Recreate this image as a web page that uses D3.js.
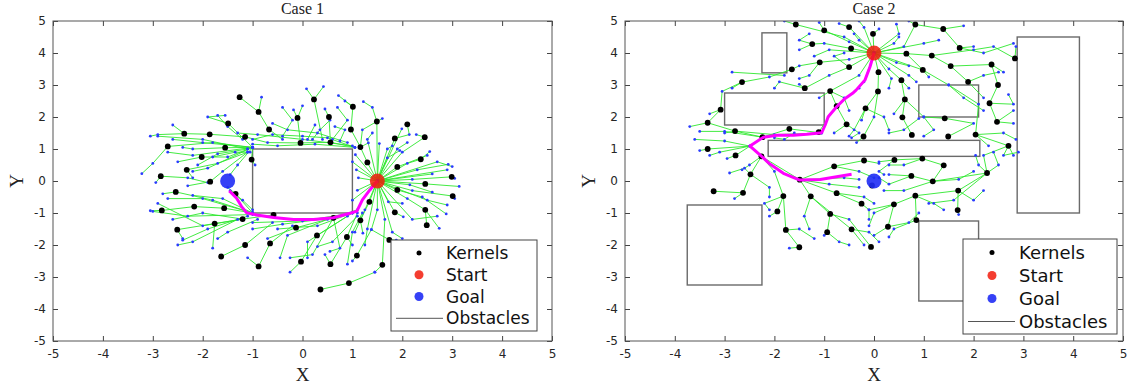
<!DOCTYPE html>
<html>
<head>
<meta charset="utf-8">
<script src="https://cdn.jsdelivr.net/npm/d3@7/dist/d3.min.js"></script>
<style>
  body { margin: 0; background: #fff; }
</style>
</head>
<body>
<div id="chart"></div>
<script>
/* Two panels of kernel trees, MATLAB look */

// ---------- Case 1 ----------
const start1 = [1.5, 0], goal1 = [-1.5, 0];
const obstacles1 = [[-1, -1, 1, 1]];
const path1 = [[1.5,0],[1.35,-0.28],[1.2,-0.59],[1.09,-0.94],[0.95,-1.01],[0.62,-1.15],[0.22,-1.2],
  [-0.18,-1.2],[-0.58,-1.14],[-0.92,-1.06],[-1.12,-0.99],[-1.22,-0.8],[-1.32,-0.54],[-1.42,-0.38],[-1.47,-0.31]];
const kernels1 = [[-1.26,2.62],[-0.88,2.16],[-1.49,1.8],[-2.37,1.48],[-1.86,1.46],[-2.7,1.08],[-1.15,1.38],
  [-1.55,1.04],[-2.02,0.75],[-1.02,0.67],[-2.32,0.35],[-2.84,0.15],[-1.85,-0.02],[-1.34,-0.4],[-2.54,-0.34],
  [-2.82,-0.92],[-2.17,-0.8],[-1.57,-0.85],[-2.51,-1.52],[-1.76,-1.33],[-1.2,-1.19],[-0.58,-1.06],[-1.15,-2],
  [-0.65,-1.95],[-1.63,-2.36],[-0.88,-2.67],[-0.13,-1.46],[0.29,-1.7],[-0.03,-2.52],[0.56,-2.6],[0.36,-3.39],
  [0.93,-3.19],[0.89,-1.75],[0.62,-1.15],[1.16,-1.23],[1.09,-2.33],[1.6,-2.62],[1.74,-1.84],[1.34,-0.65],
  [1.85,-0.98],[2.46,-0.9],[2.49,-1.38],[3.01,-0.47],[2.99,0.13],[2.46,-0.09],[1.9,-0.28],[1.9,0.44],
  [2.37,0.68],[2.45,1.37],[2.1,1.77],[1.85,1.33],[1.49,1.86],[1.3,0.58],[1.16,1.06],[0.97,1.61],[1.01,2.32],
  [0.53,2],[0.23,2.55],[-0.1,1.97],[-0.67,1.61],[-0.04,1.19],[0.56,1.21]];
const branches1 = [
  // fan around the start
  [[1.5,0],[2.2,0.05],[2.99,0.13],[3.05,0.08]],
  [[1.5,0],[2.3,0.35],[2.92,0.52]],
  [[1.5,0],[2.46,-0.09],[3.14,-0.17]],
  [[1.5,0],[2.2,-0.3],[3.01,-0.47],[3.05,-0.55]],
  [[1.5,0],[1.9,-0.28],[2.4,-0.5],[2.88,-1.03]],
  [[1.5,0],[2.1,-0.55],[2.46,-0.9],[2.74,-1.48]],
  [[2.46,-0.9],[2.49,-1.38]],
  [[1.5,0],[1.85,-0.98],[2.02,-1.12]],
  [[1.5,0],[1.9,0.44],[2.5,0.8]],
  [[1.5,0],[2.1,0.55],[2.37,0.68],[2.55,0.92]],
  [[1.5,0],[2.0,0.9],[2.45,1.37],[2.28,1.45]],
  [[1.5,0],[1.85,1.33],[2.14,1.45],[2.1,1.77]],
  [[1.5,0],[1.99,1.63]],
  [[1.5,0],[1.49,1.86],[1.6,1.95]],
  [[1.5,0],[1.54,1.17]],
  [[1.5,0],[1.3,0.58],[1.16,1.06],[1.32,1.19]],
  [[1.5,0],[1.06,0.82]],
  [[1.5,0],[1.08,0.35]],
  [[1.5,0],[1.1,-0.29]],
  [[1.5,0],[1.12,0.1]],
  [[1.5,0],[2.6,0.22]],
  [[1.5,0],[2.15,-0.12],[2.6,-0.35]],
  [[1.5,0],[1.7,0.72],[1.95,0.95]],
  [[1.5,0],[1.72,-0.65],[2.0,-0.7]],
  [[1.5,0],[1.34,-0.65],[1.16,-1.23],[1.21,-1.63]],
  [[1.5,0],[1.5,-0.9],[1.38,-1.52],[1.09,-2.33],[1.0,-2.5]],
  [[1.38,-1.52],[1.74,-1.84],[1.88,-1.85]],
  [[1.5,0],[1.65,-1.2],[1.6,-2.62],[1.45,-2.85]],
  [[1.5,0],[1.25,-0.9],[1.05,-1.6]],
  [[1.5,0],[2.9,0.35]],
  [[1.5,0],[2.5,-0.6],[2.9,-0.75]],
  [[1.5,0],[1.9,1.0],[2.1,1.2]],
  [[1.5,0],[1.3,1.3],[1.4,1.5]],
  [[1.5,0],[1.0,0.6]],
  [[1.5,0],[1.0,-0.6]],
  [[1.5,0],[1.3,-1.5],[1.25,-2.0]],
  [[1.5,0],[1.8,-1.6],[2.0,-1.8]],
  [[1.5,0],[2.2,-1.2],[2.7,-1.1]],
  [[1.5,0],[1.7,1.0],[1.8,1.1]],
  [[1.5,0],[2.7,0.6],[3.0,0.45]],
  // along the top of the obstacle
  [[1.16,1.06],[0.97,1.61],[1.01,2.32],[0.85,2.5]],
  [[1.01,2.32],[0.72,2.67]],
  [[1.16,1.06],[1.2,1.6],[1.49,1.86],[1.4,2.3],[1.22,2.48]],
  [[1.05,1.05],[0.56,1.21],[-0.04,1.19],[-0.7,1.2],[-1.15,1.38]],
  [[1.05,1.05],[0.5,1.35],[0.0,1.4],[-0.6,1.45],[-1.0,1.3]],
  [[1.05,1.05],[0.25,1.15],[-0.5,1.1],[-1.0,1.15]],
  [[0.56,1.21],[0.53,2.0],[0.45,2.25]],
  [[0.4,1.3],[0.23,2.55],[0.42,2.95]],
  [[0.23,2.55],[0.08,2.88]],
  [[-0.04,1.19],[-0.1,1.97],[-0.18,2.22]],
  [[-0.1,1.97],[0.0,2.35]],
  [[-0.4,1.3],[-0.67,1.61],[-0.88,2.16],[-0.82,2.62]],
  [[-0.88,2.16],[-1.26,2.62]],
  [[0.2,1.3],[0.35,1.6],[0.55,1.9]],
  [[0.75,1.25],[0.85,1.6],[0.65,1.7]],
  [[1.0,1.1],[0.0,1.3],[-0.9,1.45],[-1.3,1.5]],
  [[0.9,1.2],[0.3,1.5],[-0.3,1.6],[-0.6,1.8]],
  [[-0.4,1.4],[-0.2,1.9],[-0.4,2.3]],
  [[0.6,1.3],[0.9,1.9],[0.7,2.3]],
  [[0.1,1.3],[0.25,1.75]],
  // left, upper side
  [[-1.0,1.05],[-1.49,1.8],[-1.9,2.0],[-1.55,2.05]],
  [[-1.15,1.38],[-1.86,1.46],[-2.37,1.48],[-2.6,1.75]],
  [[-1.0,1.05],[-1.8,1.2],[-2.7,1.08],[-3.0,0.55],[-3.22,0.23]],
  [[-1.0,1.05],[-1.55,1.04],[-2.2,1.0],[-2.4,1.05]],
  [[-1.0,1.05],[-1.5,0.75],[-2.02,0.75],[-2.5,0.6]],
  [[-1.0,1.05],[-1.02,0.67],[-0.95,0.5]],
  [[-1.1,0.9],[-1.7,0.55],[-2.32,0.35],[-2.2,0.1]],
  [[-1.1,0.9],[-1.6,0.3],[-1.85,-0.02],[-2.3,-0.15]],
  [[-2.84,0.15],[-2.3,0.1],[-1.9,-0.05]],
  [[-2.84,0.15],[-2.94,-0.05]],
  [[-1.1,1.0],[-2.0,1.3],[-2.9,1.4]],
  [[-1.1,1.0],[-1.7,0.85],[-2.1,0.5]],
  [[-1.0,1.05],[-1.3,0.5],[-1.45,0.2]],
  [[-1.0,1.05],[-2.0,1.2],[-2.6,1.3]],
  [[-1.0,1.05],[-2.2,0.8],[-2.7,0.9]],
  [[-1.0,1.05],[-1.9,0.4],[-2.2,0.3]],
  [[-1.2,1.3],[-1.5,1.7],[-1.7,2.05]],
  [[-1.05,0.9],[-1.35,0.9],[-1.8,0.75]],
  [[-2.37,1.48],[-2.9,1.45],[-3.05,1.4]],
  // left, lower side
  [[-1.0,-1.0],[-1.57,-0.85],[-2.17,-0.8],[-2.82,-0.92],[-3.05,-0.93]],
  [[-1.0,-1.0],[-1.34,-0.4],[-1.5,-0.2]],
  [[-1.0,-1.0],[-1.8,-0.6],[-2.54,-0.34],[-2.8,-0.4]],
  [[-1.2,-1.19],[-1.76,-1.33],[-2.51,-1.52],[-2.4,-1.8]],
  [[-0.58,-1.06],[-1.2,-1.19],[-2.0,-1.0],[-2.6,-1.2]],
  [[-0.6,-1.3],[-1.15,-2.0],[-1.63,-2.36]],
  [[-0.2,-1.4],[-0.65,-1.95],[-0.88,-2.67],[-1.1,-2.4]],
  [[-1.76,-1.33],[-1.8,-2.1]],
  [[-1.0,-1.0],[-1.6,-0.55],[-2.2,-0.45]],
  [[-1.2,-1.19],[-2.0,-1.4],[-2.9,-0.7]],
  [[-1.0,-1.0],[-2.0,-0.55],[-2.7,-0.55]],
  [[-1.0,-1.05],[-2.3,-1.1],[-3.0,-0.95]],
  [[-1.1,-1.1],[-1.9,-1.5],[-2.4,-1.85]],
  [[-0.9,-1.2],[-1.5,-1.6],[-1.7,-1.8]],
  [[-1.0,-0.9],[-1.2,-0.6],[-1.45,-0.3]],
  [[-1.3,-1.2],[-2.2,-1.9],[-2.5,-2.0]],
  // bottom middle
  [[1.1,-0.9],[0.62,-1.15],[-0.13,-1.46],[-0.7,-1.8]],
  [[1.0,-1.0],[0.29,-1.7],[-0.03,-2.52],[-0.25,-2.85]],
  [[1.1,-1.0],[0.89,-1.75],[0.56,-2.6],[0.45,-2.3]],
  [[1.45,-2.85],[0.93,-3.19],[0.36,-3.39]],
  [[0.62,-1.15],[0.2,-2.3],[-0.25,-2.4]],
  [[1.0,-1.0],[0.0,-1.25],[-1.0,-1.3]],
  [[1.0,-1.0],[0.3,-1.4],[-0.5,-1.5]],
  [[0.89,-1.75],[1.0,-2.0]],
  [[0.62,-1.15],[0.75,-2.1],[0.55,-2.2]],
  [[0.5,-1.2],[-0.3,-1.7],[-0.45,-2.4]],
  [[0.9,-1.1],[0.1,-1.9],[0.1,-2.4]],
  [[1.1,-1.1],[0.6,-1.9],[0.3,-2.05]],
  [[1.2,-1.0],[1.0,-1.6],[0.9,-2.6]],
  [[0.62,-1.15],[-0.4,-1.35],[-1.0,-1.5]]
];

// ---------- Case 2 ----------
const start2 = [0, 4], goal2 = [0, 0];
const obstacles2 = [[-2.25,3.38,-1.75,4.63],[-3,1.75,-1,2.75],[-2.125,0.77,2.125,1.27],[0.9,2,2.1,3],
  [2.875,-1,4.125,4.5],[-3.75,-3.25,-2.25,-0.75],[0.9,-3.75,2.1,-1.25]];
const path2 = [[0,4],[-0.08,3.57],[-0.18,3.16],[-0.36,2.84],[-0.43,2.74],[-0.58,2.58],[-0.75,2.32],
  [-0.92,2.01],[-0.98,1.75],[-1.05,1.51],[-1.35,1.46],[-1.62,1.43],[-1.95,1.43],[-2.22,1.37],[-2.49,1.09],
  [-2.25,0.76],[-2.09,0.53],[-1.82,0.24],[-1.49,0.03],[-1.08,0.05],[-0.75,0.13],[-0.45,0.21]];
const kernels2 = [[-1.57,4.89],[-1,4.71],[-0.5,4.81],[-0.02,4.6],[-1.24,4.28],[-0.46,4.14],[-1.09,3.71],
  [-0.5,3.56],[-1.65,3.49],[-2.65,3.09],[-1.39,2.9],[-0.88,2.81],[0.09,3.4],[0.08,2.8],[-3.08,2.23],
  [-0.75,2.34],[-0.17,2.27],[0.62,2.55],[0.55,3.15],[0.65,3.98],[1.16,3.92],[0.98,3.47],[0.83,4.89],
  [1.39,4.75],[1.72,4.16],[1.54,3.59],[1.89,3.1],[2.36,3.64],[2.49,3],[2.32,2.43],[2.83,3.83],[2.47,1.85],
  [2.04,1.45],[2.7,1.1],[1.42,1.96],[1.49,1.39],[0.76,1.44],[0.57,1.99],[-0.21,1.39],[-0.55,1.77],
  [-3.34,1.82],[-2.79,1.56],[-1.7,1.63],[-1.11,1.53],[-2.24,1.37],[-3.34,1],[-2.78,0.8],[-2.26,0.77],
  [-2.48,0.21],[-3.22,-0.32],[-2.63,-0.37],[-1.49,0.04],[-0.8,0.46],[-0.2,0.64],[0.41,0.66],[0.97,0.7],
  [1.4,0.49],[0.75,0.16],[1.18,-0.01],[2.27,0.25],[1.69,-0.3],[0.83,-0.46],[0.4,-0.73],[1.68,-0.91],
  [0.85,-1.22],[0.28,-1.43],[-0.06,-2.06],[-0.25,-0.71],[-0.75,-0.38],[-1.27,-0.48],[-1.82,-0.47],
  [-1.94,-0.95],[-0.88,-1.03],[-0.94,-1.6],[-0.45,-1.51],[-1.77,-1.53],[-1.5,-2.07],[-0.04,-0.14]];
const branches2 = [
  // fan around the start
  [[0,4],[-0.02,4.6],[0.1,4.75]],
  [[0,4],[-0.46,4.14],[-1.0,4.3],[-1.24,4.28],[-1.5,4.1]],
  [[0,4],[-0.5,4.35],[-1.0,4.71],[-1.1,4.95]],
  [[0,4],[-0.6,4.5],[-1.57,4.89],[-1.8,5.0]],
  [[0,4],[-0.5,4.81],[-0.7,4.92]],
  [[0,4],[-0.5,3.8],[-1.09,3.71],[-1.5,3.6],[-1.65,3.49]],
  [[0,4],[-0.5,3.56],[-0.9,3.3],[-1.39,2.9],[-1.5,3.02]],
  [[0,4],[-0.3,3.3],[-0.88,2.81],[-1.1,2.6]],
  [[0,4],[0.09,3.4],[0.08,2.8],[-0.17,2.27],[-0.25,1.9]],
  [[0,4],[0.3,3.5],[0.55,3.15],[0.62,2.55],[0.57,1.99],[0.76,1.44]],
  [[0,4],[0.65,3.98],[1.16,3.92],[1.54,3.59],[1.89,3.1],[2.2,2.6]],
  [[0,4],[0.98,3.47],[1.1,3.25]],
  [[0,4],[0.6,4.2],[0.83,4.89],[0.7,5.0]],
  [[0,4],[0.4,4.3],[0.5,4.5]],
  [[0,4],[-0.3,4.4],[-0.4,4.6]],
  [[0,4],[0.45,3.7],[0.7,3.6]],
  [[0,4],[-0.2,3.1],[-0.3,2.9]],
  [[0,4],[0.5,4.6],[0.45,4.9]],
  [[0,4],[-0.9,4.1],[-1.2,3.9]],
  [[0,4],[0.7,3.3],[0.85,3.1]],
  [[0,4],[1.0,4.3],[1.3,4.4]],
  [[0,4],[-0.2,4.8],[-0.3,5.0]],
  [[0,4],[0.35,3.2],[0.3,2.9]],
  // upper left
  [[-1.65,3.49],[-2.1,3.25],[-2.65,3.09],[-2.85,2.9]],
  [[-2.65,3.09],[-3.05,2.8],[-3.08,2.23],[-3.3,2.1]],
  [[-1.8,3.3],[-2.85,3.4]],
  [[-3.08,2.23],[-3.34,1.82],[-3.7,1.7]],
  [[-0.88,2.81],[-0.75,2.34],[-0.55,1.77],[-0.8,1.5]],
  [[-0.75,2.34],[-1.11,1.53]],
  [[0.08,2.8],[0.0,2.0],[-0.21,1.39],[-0.35,1.2]],
  [[-0.17,2.27],[-0.4,1.6],[-0.5,1.4]],
  [[-1.39,2.9],[-1.9,3.1],[-2.0,2.9]],
  [[-1.24,4.28],[-1.5,4.4],[-1.3,4.6]],
  [[-1.09,3.71],[-1.3,3.3],[-1.5,3.2]],
  [[-0.5,3.56],[-0.8,3.9],[-0.6,4.0]],
  [[-0.88,2.81],[-0.6,2.6],[-0.5,2.2]],
  [[-0.17,2.27],[0.2,2.0],[0.3,1.6]],
  [[-0.55,1.77],[-0.3,1.5],[-0.45,1.35]],
  // upper right
  [[0.55,3.15],[0.7,2.9]],
  [[0.62,2.55],[0.4,2.1]],
  [[1.16,3.92],[2.0,4.1],[2.4,4.2],[2.83,3.83],[2.85,4.2]],
  [[0.83,4.89],[1.39,4.75],[1.72,4.16],[2.0,4.2]],
  [[1.39,4.75],[1.8,4.85]],
  [[1.54,3.59],[2.36,3.64],[2.49,3.0],[2.32,2.43],[2.47,1.85],[2.8,1.8]],
  [[2.36,3.64],[2.6,3.4]],
  [[0.65,3.98],[0.98,3.47],[1.5,3.0],[2.1,2.4],[2.04,1.45],[2.7,1.1],[2.8,0.8]],
  [[2.04,1.45],[2.3,1.1]],
  [[0.62,2.55],[1.0,2.0],[1.42,1.96],[2.0,1.8],[1.49,1.39]],
  [[0.9,1.95],[0.6,1.6],[0.3,1.5]],
  [[2.47,1.85],[2.8,2.2]],
  [[1.72,4.16],[2.2,4.0],[2.8,4.3]],
  [[1.89,3.1],[2.2,3.3],[2.5,3.4]],
  [[2.32,2.43],[2.8,2.4],[2.7,2.7]],
  [[2.04,1.45],[2.6,1.5],[2.85,1.3]],
  [[2.7,1.1],[2.6,0.8],[2.9,0.9]],
  [[1.0,2.0],[1.2,1.6],[1.0,1.4]],
  [[1.5,3.0],[1.8,2.6],[2.2,2.2]],
  // left, along the bar
  [[-1.05,1.5],[-1.7,1.63],[-2.24,1.37],[-2.79,1.56],[-3.34,1.82]],
  [[-1.05,1.5],[-2.0,1.45],[-2.79,1.56],[-3.0,1.5]],
  [[-2.24,1.37],[-2.49,1.09],[-3.34,1.0],[-3.5,0.95]],
  [[-2.49,1.09],[-2.78,0.8],[-2.95,0.7]],
  [[-2.49,1.09],[-3.0,1.25],[-3.6,1.3]],
  [[-2.24,1.37],[-3.0,1.55],[-3.5,1.55]],
  [[-2.49,1.09],[-3.1,0.9],[-3.3,0.8]],
  [[-2.26,0.77],[-2.5,0.5],[-2.65,0.35]],
  [[-1.6,1.5],[-1.8,1.3],[-2.0,1.35]],
  // lower left
  [[-2.49,1.09],[-2.26,0.77],[-2.48,0.21],[-2.63,-0.37],[-2.8,-0.55]],
  [[-2.48,0.21],[-2.6,0.4],[-2.9,0.25]],
  [[-3.22,-0.32],[-2.63,-0.37]],
  [[-2.26,0.77],[-2.0,0.3],[-1.82,-0.47],[-1.94,-0.95],[-2.1,-1.1]],
  [[-2.26,0.77],[-1.49,0.04],[-0.75,-0.38],[-0.25,-0.71],[-0.1,-0.9]],
  [[-1.49,0.04],[-1.27,-0.48],[-0.88,-1.03],[-0.94,-1.6],[-1.0,-1.7]],
  [[-1.82,-0.47],[-1.77,-1.53],[-1.5,-2.07],[-1.7,-2.1]],
  [[-1.27,-0.48],[-0.45,-1.51],[-0.2,-2.0]],
  [[-0.88,-1.03],[-0.5,-1.2],[-0.06,-2.06]],
  [[-1.77,-1.53],[-1.5,-1.5],[-1.2,-1.8]],
  [[-1.49,0.04],[-0.8,0.46],[-0.2,0.64],[0.1,0.55]],
  [[-0.8,0.46],[-0.3,0.3],[0.0,0.1]],
  [[-1.49,0.04],[-0.9,-0.1],[-0.3,-0.2]],
  [[-2.48,0.21],[-2.1,-0.2],[-2.1,-0.5]],
  [[-1.82,-0.47],[-2.2,-0.7],[-2.1,-0.9]],
  [[-1.27,-0.48],[-1.4,-1.1],[-1.3,-1.5]],
  [[-0.94,-1.6],[-0.7,-1.9],[-0.5,-2.0]],
  [[-0.45,-1.51],[-0.1,-1.6],[0.1,-1.9]],
  [[-0.75,-0.38],[-0.2,-0.5],[0.0,-0.7]],
  [[-1.49,0.04],[-0.6,0.1],[-0.3,0.05]],
  // lower right
  [[2.27,0.25],[2.1,0.5],[2.04,0.8]],
  [[2.7,1.1],[2.2,0.8],[2.27,0.25],[1.69,-0.3],[1.68,-0.91],[1.7,-1.05]],
  [[1.69,-0.3],[0.83,-0.46],[0.4,-0.73],[0.28,-1.43],[0.0,-1.7]],
  [[2.27,0.25],[1.18,-0.01],[0.75,0.16],[0.3,0.2]],
  [[1.18,-0.01],[1.4,0.49],[0.97,0.7],[0.41,0.66],[0.1,0.6]],
  [[0.83,-0.46],[0.85,-1.22],[0.4,-1.5],[0.3,-1.75]],
  [[1.18,-0.01],[0.6,-0.3],[0.2,-0.3]],
  [[0.4,-0.73],[-0.1,-0.9],[-0.1,-1.2]],
  [[2.27,0.25],[1.6,-0.6],[1.1,-0.7]],
  [[0.75,0.16],[0.3,-0.1],[0.1,0.1]],
  [[1.18,-0.01],[1.7,0.05],[2.0,0.3]],
  [[1.69,-0.3],[2.0,-0.6],[2.2,-0.3]],
  [[0.83,-0.46],[1.2,-0.7],[1.4,-0.9]],
  [[0.4,-0.73],[0.0,-1.0],[-0.1,-1.4]],
  [[0.28,-1.43],[0.7,-1.3],[0.9,-1.0]],
  [[2.27,0.25],[2.5,0.5],[2.4,0.9]],
  [[0.97,0.7],[0.6,0.5],[0.3,0.5]],
  [[0.41,0.66],[0.1,0.3],[0.2,0.2]]
];

const ticks = [-5,-4,-3,-2,-1,0,1,2,3,4,5];
const legendLabels = ["Kernels","Start","Goal","Obstacles"];

const width = 1139, height = 392;
const svg = d3.select("#chart").append("svg")
    .attr("width", width).attr("height", height);

function drawPanel(cfg) {
    const x = d3.scaleLinear().domain([-5, 5]).range([cfg.left, cfg.right]);
    const y = d3.scaleLinear().domain([-5, 5]).range([341, 21]);
    const g = svg.append("g");

    g.append("clipPath").attr("id", cfg.id)
      .append("rect")
        .attr("x", cfg.left).attr("y", 21)
        .attr("width", cfg.right - cfg.left).attr("height", 320);

    const plot = g.append("g").attr("clip-path", `url(#${cfg.id})`);
    const line = d3.line().x(d => x(d[0])).y(d => y(d[1]));

    // obstacles
    plot.selectAll(".obs").data(cfg.obstacles).join("rect")
        .attr("x", d => x(d[0]))
        .attr("y", d => y(d[3]))
        .attr("width", d => x(d[2]) - x(d[0]))
        .attr("height", d => y(d[1]) - y(d[3]))
        .attr("fill", "none").attr("stroke", "#6a6a6a").attr("stroke-width", 1.4);

    // green tree edges
    plot.selectAll(".edge").data(cfg.branches).join("path")
        .attr("d", line)
        .attr("fill", "none").attr("stroke", "#2ee82e").attr("stroke-width", 0.9);

    // blue nodes at every vertex
    const nodes = cfg.branches.flat();
    plot.selectAll(".node").data(nodes).join("circle")
        .attr("cx", d => x(d[0])).attr("cy", d => y(d[1]))
        .attr("r", 1.4).attr("fill", "#2a3cff");

    // kernels
    plot.selectAll(".kernel").data(cfg.kernels).join("circle")
        .attr("cx", d => x(d[0])).attr("cy", d => y(d[1]))
        .attr("r", 2.9).attr("fill", "#000");

    // path
    plot.append("path").datum(cfg.path)
        .attr("d", line)
        .attr("fill", "none").attr("stroke", "#ff00ff").attr("stroke-width", 3)
        .attr("stroke-linejoin", "round");

    // start and goal
    plot.append("circle")
        .attr("cx", x(cfg.start[0])).attr("cy", y(cfg.start[1]))
        .attr("r", 7.5).attr("fill", "#f21b0c").attr("opacity", 0.85);
    plot.append("circle")
        .attr("cx", x(cfg.goal[0])).attr("cy", y(cfg.goal[1]))
        .attr("r", 7.5).attr("fill", "#1f2cf5").attr("opacity", 0.9);

    // axes, ticks pointing inward on all four sides
    const fmt = d => String(d);
    const axStyle = a => {
        a.select(".domain").remove();
        a.selectAll(".tick line").attr("stroke", "#444");
        a.selectAll("text").attr("fill", "#262626")
            .style("font-family", "DejaVu Sans, sans-serif").style("font-size", "12px");
    };
    g.append("g").attr("transform", "translate(0,341)")
        .call(d3.axisBottom(x).tickValues(ticks).tickSize(-5).tickPadding(8).tickFormat(fmt))
        .call(axStyle);
    g.append("g").attr("transform", "translate(0,21)")
        .call(d3.axisTop(x).tickValues(ticks).tickSize(-5).tickFormat(""))
        .call(axStyle);
    g.append("g").attr("transform", `translate(${cfg.left},0)`)
        .call(d3.axisLeft(y).tickValues(ticks).tickSize(-5).tickPadding(7).tickFormat(fmt))
        .call(axStyle);
    g.append("g").attr("transform", `translate(${cfg.right},0)`)
        .call(d3.axisRight(y).tickValues(ticks).tickSize(-5).tickFormat(""))
        .call(axStyle);

    g.append("rect")
        .attr("x", cfg.left).attr("y", 21)
        .attr("width", cfg.right - cfg.left).attr("height", 320)
        .attr("fill", "none").attr("stroke", "#555").attr("stroke-width", 1);

    // title and labels
    const serif = "Liberation Serif, Times New Roman, serif";
    g.append("text").text(cfg.title)
        .attr("x", (cfg.left + cfg.right) / 2).attr("y", 14)
        .attr("text-anchor", "middle").attr("fill", "#222")
        .style("font-family", serif).style("font-size", "16px");
    g.append("text").text("X")
        .attr("x", (cfg.left + cfg.right) / 2).attr("y", 381)
        .attr("text-anchor", "middle").attr("fill", "#222")
        .style("font-family", serif).style("font-size", "19px");
    g.append("text").text("Y")
        .attr("transform", `translate(${cfg.left - 30},181) rotate(-90)`)
        .attr("text-anchor", "middle").attr("fill", "#222")
        .style("font-family", serif).style("font-size", "19px");

    // legend
    const L = cfg.legend;
    const lg = g.append("g");
    lg.append("rect")
        .attr("x", L.x0).attr("y", L.y0)
        .attr("width", L.x1 - L.x0).attr("height", L.y1 - L.y0)
        .attr("fill", "#fff").attr("stroke", "#444").attr("stroke-width", 1);
    const rowY = i => L.y0 + L.pad + L.step * (i + 0.5);
    lg.selectAll(".ltext").data(legendLabels).join("text")
        .text(d => d)
        .attr("x", L.tx).attr("y", (d, i) => rowY(i))
        .attr("dy", "0.36em").attr("fill", "#111")
        .style("font-family", "DejaVu Sans, sans-serif").style("font-size", L.font + "px");
    lg.append("circle").attr("cx", L.mx).attr("cy", rowY(0)).attr("r", 2.5).attr("fill", "#000");
    lg.append("circle").attr("cx", L.mx).attr("cy", rowY(1)).attr("r", 4.5).attr("fill", "#f21b0c").attr("opacity", 0.85);
    lg.append("circle").attr("cx", L.mx).attr("cy", rowY(2)).attr("r", 4.5).attr("fill", "#1f2cf5").attr("opacity", 0.9);
    lg.append("line")
        .attr("x1", L.lx0).attr("x2", L.lx1)
        .attr("y1", rowY(3)).attr("y2", rowY(3))
        .attr("stroke", "#555").attr("stroke-width", 1);
}

drawPanel({
    id: "clip1", title: "Case 1", left: 53, right: 552,
    obstacles: obstacles1, branches: branches1, kernels: kernels1, path: path1,
    start: start1, goal: goal1,
    legend: {x0: 391, y0: 240, x1: 537, y1: 331, pad: 2, step: 21.8, font: 17,
             mx: 419, tx: 446, lx0: 396, lx1: 443}
});
drawPanel({
    id: "clip2", title: "Case 2", left: 625, right: 1123,
    obstacles: obstacles2, branches: branches2, kernels: kernels2, path: path2,
    start: start2, goal: goal2,
    legend: {x0: 963, y0: 239, x1: 1117, y1: 334, pad: 2, step: 23, font: 18,
             mx: 992, tx: 1019, lx0: 968, lx1: 1015}
});
</script>
</body>
</html>
